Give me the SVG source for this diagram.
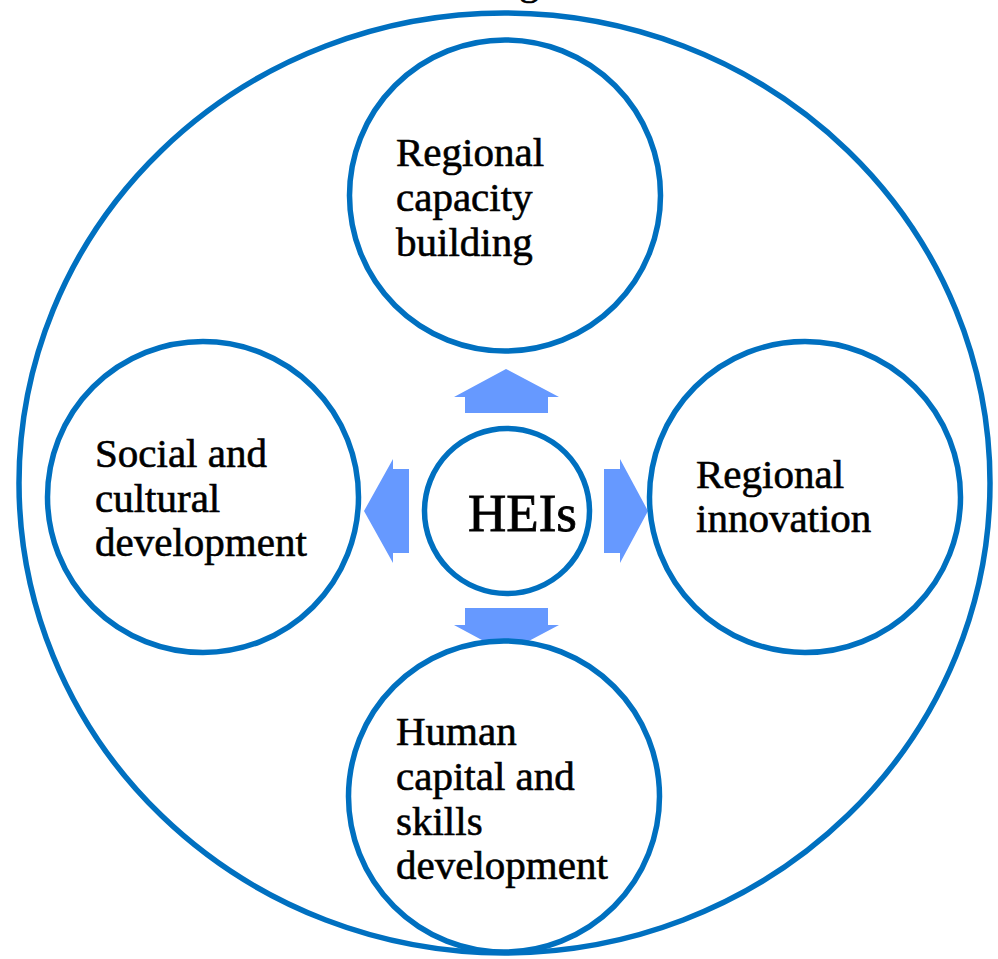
<svg xmlns="http://www.w3.org/2000/svg" width="998" height="959" viewBox="0 0 998 959">
<style>
.ring{fill:#FFFFFF;stroke:#0070C0;stroke-width:5.5}
.arrow{fill:#6699FF}
.lbl{font-family:"Liberation Serif","Times New Roman",serif;font-size:41px;fill:#000000;stroke:#000000;stroke-width:0.6}
.hub{font-family:"Liberation Serif","Times New Roman",serif;font-size:53px;fill:#000000;stroke:#000000;stroke-width:0.8}
</style>
<rect width="998" height="959" fill="#FFFFFF"/>
<text class="lbl" x="519" y="-6">g</text>
<g id="outer">
<ellipse cx="504.5" cy="483" rx="485.5" ry="470" fill="none" stroke="#0070C0" stroke-width="5.5"/>
</g>
<g id="connectors">
<polygon class="arrow" points="506,369 559,397 548,397 548,413 465,413 465,397 454,397"/>
<polygon class="arrow" points="506,653 559,625 548,625 548,608 465,608 465,625 454,625"/>
<polygon class="arrow" points="364,511 393,459 393,469 409,469 409,553 393,553 393,563"/>
<polygon class="arrow" points="648,511 620,459 620,469 604,469 604,553 620,553 620,563"/>
</g>
<g id="hub">
<circle class="ring" cx="507" cy="511" r="82.5"/>
<text class="hub" x="468" y="531">HEIs</text>
</g>
<g id="node-capacity">
<circle class="ring" cx="505" cy="195.5" r="155.5"/>
<text class="lbl" x="396" y="166">Regional</text>
<text class="lbl" x="396" y="211">capacity</text>
<text class="lbl" x="396" y="256">building</text>
</g>
<g id="node-social">
<circle class="ring" cx="203" cy="497" r="155.5"/>
<text class="lbl" x="95" y="467">Social and</text>
<text class="lbl" x="95" y="512">cultural</text>
<text class="lbl" x="95" y="556">development</text>
</g>
<g id="node-innovation">
<circle class="ring" cx="805" cy="497" r="155.5"/>
<text class="lbl" x="696" y="488">Regional</text>
<text class="lbl" x="696" y="532">innovation</text>
</g>
<g id="node-human">
<circle class="ring" cx="504" cy="796.5" r="155.5"/>
<text class="lbl" x="396" y="745">Human</text>
<text class="lbl" x="396" y="790">capital and</text>
<text class="lbl" x="396" y="835">skills</text>
<text class="lbl" x="396" y="879">development</text>
</g>
</svg>
